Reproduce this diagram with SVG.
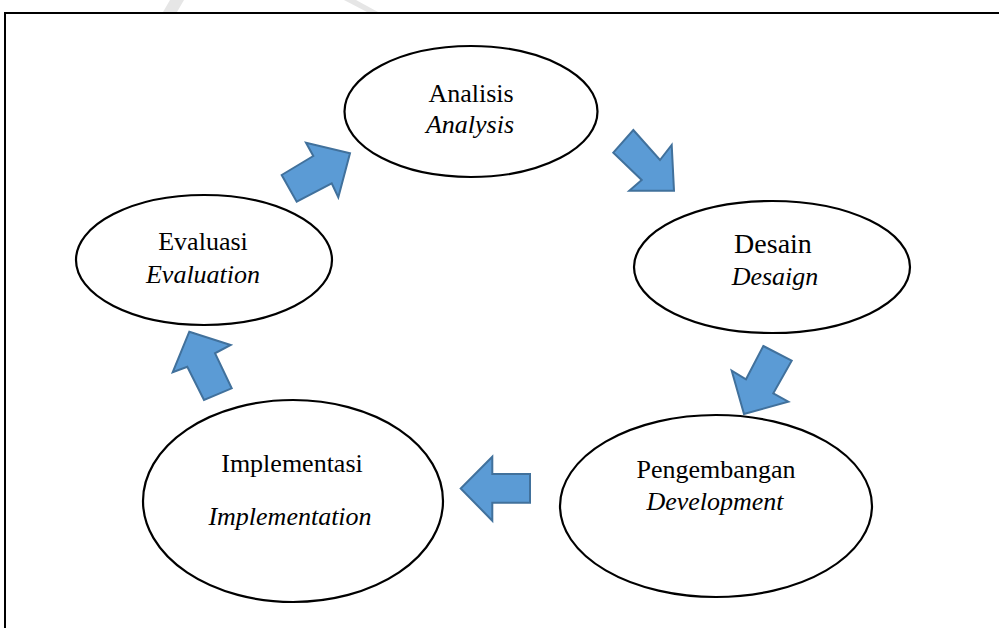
<svg xmlns="http://www.w3.org/2000/svg" width="999" height="628" viewBox="0 0 999 628">
<style>
.node{fill:#fff;stroke:#000;stroke-width:2.2}
.t{font-family:"Liberation Serif","Times New Roman",serif;font-size:26px;fill:#000;text-anchor:middle}
.i{font-style:italic}
.arr{fill:#5B9BD5;stroke:#41719C;stroke-width:2;stroke-linejoin:miter}
.wm{fill:#e6e6e6}
</style>
<rect width="999" height="628" fill="#fff"/>
<g id="watermark">
<polygon class="wm" points="163,12 170,0 184,0 177,12"/>
<polygon class="wm" points="344,0 356,0 378,12 367,12"/>
</g>
<rect x="5" y="13" width="1000" height="700" fill="none" stroke="#000" stroke-width="2"/>
<g id="analisis">
<ellipse class="node" cx="471" cy="111.5" rx="126.5" ry="65.5"/>
<text class="t" x="471" y="102">Analisis</text>
<text class="t i" x="470" y="133">Analysis</text>
</g>
<g id="desain">
<ellipse class="node" cx="772" cy="267" rx="138" ry="66"/>
<text class="t" x="773" y="253" style="font-size:28px">Desain</text>
<text class="t i" x="775" y="285">Desaign</text>
</g>
<g id="pengembangan">
<ellipse class="node" cx="716" cy="506" rx="156" ry="91"/>
<text class="t" x="716" y="478">Pengembangan</text>
<text class="t i" x="715" y="510">Development</text>
</g>
<g id="implementasi">
<ellipse class="node" cx="293" cy="501" rx="150" ry="101"/>
<text class="t" x="292" y="472">Implementasi</text>
<text class="t i" x="290" y="525">Implementation</text>
</g>
<g id="evaluasi">
<ellipse class="node" cx="204" cy="260" rx="128" ry="65"/>
<text class="t" x="203" y="250">Evaluasi</text>
<text class="t i" x="203" y="283">Evaluation</text>
</g>
<g id="connectors">
<polygon class="arr" points="281.7,175 313.3,156 306,142.7 350,153.3 338.3,197.3 331.7,183.3 296.7,201.7"/>
<polygon class="arr" points="633.3,130 660,160 671.7,145 674,190.7 629.3,190.7 641.7,180 613.3,152.7"/>
<polygon class="arr" points="763.3,346 791.7,360.7 773.3,393.3 788.3,401.7 744,414 731.7,370.7 746,379.3"/>
<polygon class="arr" points="530,474 492.3,474 492.3,456.7 460.7,488.5 492.3,520.7 492.3,502.7 530,502.7"/>
<polygon class="arr" points="189.3,331.7 230.7,345 215,353.3 231.7,388.3 204,400 187.3,366.7 172.7,372.3"/>
</g>
</svg>
